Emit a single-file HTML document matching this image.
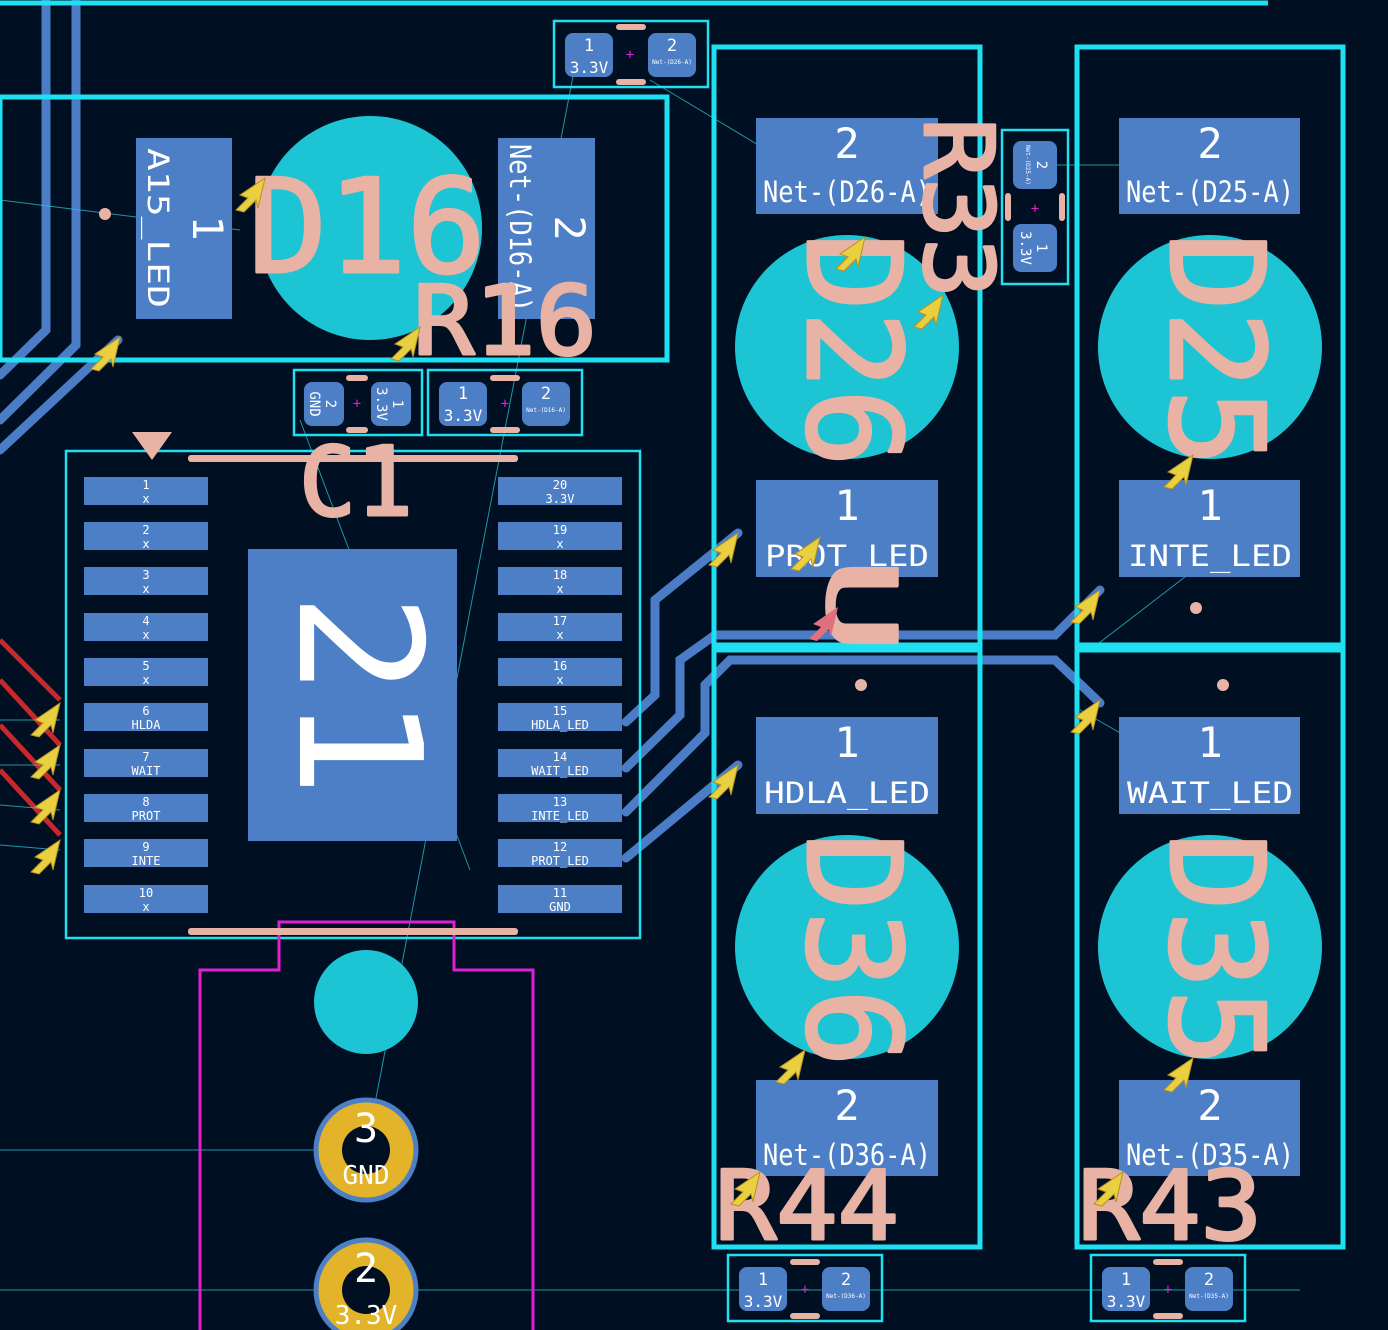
<!DOCTYPE html>
<html><head><meta charset="utf-8"><style>
html,body{margin:0;padding:0;background:#010f22;}
svg{display:block}
text{font-family:"DejaVu Sans Mono","Liberation Mono",monospace;}
.s{fill:#e8b2a4;stroke:#e8b2a4;stroke-width:3;stroke-linejoin:round;font-family:"DejaVu Sans","Liberation Sans",sans-serif;}
.w{fill:#fff}
</style></head><body>
<svg width="1388" height="1330" viewBox="0 0 1388 1330" xmlns="http://www.w3.org/2000/svg">
<rect width="1388" height="1330" fill="#010f22"/>
<g stroke="#c8282c" stroke-width="5">
<line x1="0" y1="640" x2="60" y2="700"/><line x1="0" y1="680" x2="60" y2="745"/><line x1="0" y1="725" x2="60" y2="790"/><line x1="0" y1="770" x2="60" y2="835"/>
</g>
<g stroke="#4a7dc6" stroke-width="9" fill="none" stroke-linecap="round">
<polyline points="46,0 46,330 0,375"/><polyline points="76,0 76,345 0,420"/><polyline points="118,340 0,450"/>
<polyline points="626,722 655,695 655,600 738,533"/>
<polyline points="626,768 680,715 680,660 715,635 1055,635 1100,590"/>
<polyline points="626,812 705,733 705,685 730,660 1055,660 1100,703"/>
<polyline points="626,858 738,765"/>
</g>
<g stroke="#2ad0e0" stroke-width="1" opacity="0.7">
<line x1="0" y1="200" x2="240" y2="230"/><line x1="580" y1="40" x2="366" y2="1150"/><line x1="650" y1="80" x2="850" y2="200"/>
<line x1="1040" y1="165" x2="1150" y2="165"/><line x1="0" y1="1150" x2="366" y2="1150"/><line x1="0" y1="1290" x2="1300" y2="1290"/>
<line x1="300" y1="420" x2="470" y2="870"/><line x1="1080" y1="710" x2="1220" y2="790"/><line x1="1090" y1="650" x2="1220" y2="550"/>
<line x1="760" y1="740" x2="850" y2="770"/><line x1="0" y1="720" x2="60" y2="720"/><line x1="0" y1="765" x2="60" y2="765"/><line x1="0" y1="805" x2="60" y2="810"/><line x1="0" y1="845" x2="60" y2="850"/>
</g>
<g fill="#1cc4d4">
<circle cx="370" cy="228" r="112"/><circle cx="847" cy="347" r="112"/><circle cx="1210" cy="347" r="112"/><circle cx="847" cy="947" r="112"/><circle cx="1210" cy="947" r="112"/><circle cx="366" cy="1002" r="52"/>
</g>
<g fill="none" stroke="#1ee0f0" stroke-width="5">
<line x1="0" y1="3" x2="1268" y2="3"/>
<rect x="0" y="97" width="667" height="263"/>
<rect x="714" y="47" width="266" height="598"/><rect x="714" y="650" width="266" height="597"/>
<rect x="1077" y="47" width="266" height="598"/><rect x="1077" y="650" width="266" height="597"/>
</g>
<g fill="none" stroke="#1ee0f0" stroke-width="2.5">
<rect x="66" y="451" width="574" height="487"/>
<rect x="554" y="21" width="154" height="66"/><rect x="294" y="370" width="128" height="65"/><rect x="428" y="370" width="154" height="65"/>
<rect x="1002" y="130" width="66" height="154"/><rect x="728" y="1255" width="154" height="66"/><rect x="1091" y="1255" width="154" height="66"/>
</g>
<path d="M200,1330 V970 H279 V922 H454 V970 H533 V1330" fill="none" stroke="#e020d0" stroke-width="3"/>
<g fill="#4d7fc6">
<rect x="136" y="138" width="96" height="181"/><rect x="498" y="138" width="97" height="181"/>
<rect x="756" y="118" width="182" height="96"/><rect x="756" y="480" width="182" height="97"/>
<rect x="1119" y="118" width="181" height="96"/><rect x="1119" y="480" width="181" height="97"/>
<rect x="756" y="717" width="182" height="97"/><rect x="756" y="1080" width="182" height="96"/>
<rect x="1119" y="717" width="181" height="97"/><rect x="1119" y="1080" width="181" height="96"/>
<rect x="248" y="549" width="209" height="292"/>
<rect x="565" y="33" width="48" height="44" rx="8"/><rect x="648" y="33" width="48" height="44" rx="8"/>
<rect x="304" y="382" width="40" height="44" rx="8"/><rect x="371" y="382" width="40" height="44" rx="8"/>
<rect x="439" y="382" width="48" height="44" rx="8"/><rect x="522" y="382" width="48" height="44" rx="8"/>
<rect x="1013" y="141" width="44" height="48" rx="8"/><rect x="1013" y="224" width="44" height="48" rx="8"/>
<rect x="739" y="1267" width="48" height="44" rx="8"/><rect x="822" y="1267" width="48" height="44" rx="8"/>
<rect x="1102" y="1267" width="48" height="44" rx="8"/><rect x="1185" y="1267" width="48" height="44" rx="8"/>
</g>
<g fill="#4d7fc6">
<rect x="84" y="477" width="124" height="28"/><rect x="84" y="522" width="124" height="28"/><rect x="84" y="567" width="124" height="28"/><rect x="84" y="613" width="124" height="28"/><rect x="84" y="658" width="124" height="28"/><rect x="84" y="703" width="124" height="28"/><rect x="84" y="749" width="124" height="28"/><rect x="84" y="794" width="124" height="28"/><rect x="84" y="839" width="124" height="28"/><rect x="84" y="885" width="124" height="28"/>
<rect x="498" y="477" width="124" height="28"/><rect x="498" y="522" width="124" height="28"/><rect x="498" y="567" width="124" height="28"/><rect x="498" y="613" width="124" height="28"/><rect x="498" y="658" width="124" height="28"/><rect x="498" y="703" width="124" height="28"/><rect x="498" y="749" width="124" height="28"/><rect x="498" y="794" width="124" height="28"/><rect x="498" y="839" width="124" height="28"/><rect x="498" y="885" width="124" height="28"/>
</g>
<g class="w" font-size="12" text-anchor="middle">
<text x="146" y="489">1</text><text x="146" y="503">x</text>
<text x="146" y="534">2</text><text x="146" y="548">x</text>
<text x="146" y="579">3</text><text x="146" y="593">x</text>
<text x="146" y="625">4</text><text x="146" y="639">x</text>
<text x="146" y="670">5</text><text x="146" y="684">x</text>
<text x="146" y="715">6</text><text x="146" y="729">HLDA</text>
<text x="146" y="761">7</text><text x="146" y="775">WAIT</text>
<text x="146" y="806">8</text><text x="146" y="820">PROT</text>
<text x="146" y="851">9</text><text x="146" y="865">INTE</text>
<text x="146" y="897">10</text><text x="146" y="911">x</text>
<text x="560" y="489">20</text><text x="560" y="503">3.3V</text>
<text x="560" y="534">19</text><text x="560" y="548">x</text>
<text x="560" y="579">18</text><text x="560" y="593">x</text>
<text x="560" y="625">17</text><text x="560" y="639">x</text>
<text x="560" y="670">16</text><text x="560" y="684">x</text>
<text x="560" y="715">15</text><text x="560" y="729">HDLA_LED</text>
<text x="560" y="761">14</text><text x="560" y="775">WAIT_LED</text>
<text x="560" y="806">13</text><text x="560" y="820">INTE_LED</text>
<text x="560" y="851">12</text><text x="560" y="865">PROT_LED</text>
<text x="560" y="897">11</text><text x="560" y="911">GND</text>
</g>
<g fill="#e8b2a4">
<rect x="188" y="455" width="330" height="7" rx="3"/><rect x="188" y="928" width="330" height="7" rx="3"/>
<polygon points="132,432 172,432 152,460"/>
<rect x="616" y="24" width="30" height="6" rx="3"/><rect x="616" y="79" width="30" height="6" rx="3"/>
<rect x="346" y="375" width="22" height="6" rx="3"/><rect x="346" y="427" width="22" height="6" rx="3"/>
<rect x="490" y="375" width="30" height="6" rx="3"/><rect x="490" y="427" width="30" height="6" rx="3"/>
<rect x="1005" y="193" width="6" height="28" rx="3"/><rect x="1059" y="193" width="6" height="28" rx="3"/>
<rect x="790" y="1259" width="30" height="6" rx="3"/><rect x="790" y="1313" width="30" height="6" rx="3"/>
<rect x="1153" y="1259" width="30" height="6" rx="3"/><rect x="1153" y="1313" width="30" height="6" rx="3"/>
<circle cx="105" cy="214" r="6"/><circle cx="861" cy="685" r="6"/><circle cx="1196" cy="608" r="6"/><circle cx="1223" cy="685" r="6"/>
</g>
<g fill="#e020d0" font-size="14" text-anchor="middle">
<text x="630" y="59">+</text><text x="357" y="408">+</text><text x="505" y="408">+</text><text x="1035" y="213">+</text><text x="805" y="1294">+</text><text x="1168" y="1294">+</text>
</g>
<g class="w" text-anchor="middle">
<text x="589" y="51" font-size="17">1</text><text x="589" y="73" font-size="16">3.3V</text>
<text x="672" y="51" font-size="17">2</text><text x="672" y="64" font-size="6">Net-(D26-A)</text>
<text x="463" y="399" font-size="17">1</text><text x="463" y="421" font-size="16">3.3V</text>
<text x="546" y="399" font-size="17">2</text><text x="546" y="412" font-size="6">Net-(D16-A)</text>
<text x="763" y="1285" font-size="17">1</text><text x="763" y="1307" font-size="16">3.3V</text>
<text x="846" y="1285" font-size="17">2</text><text x="846" y="1298" font-size="6">Net-(D36-A)</text>
<text x="1126" y="1285" font-size="17">1</text><text x="1126" y="1307" font-size="16">3.3V</text>
<text x="1209" y="1285" font-size="17">2</text><text x="1209" y="1298" font-size="6">Net-(D35-A)</text>
<g transform="translate(324,404) rotate(90)"><text x="0" y="-2" font-size="14">2</text><text x="0" y="14" font-size="14">GND</text></g>
<g transform="translate(391,404) rotate(90)"><text x="0" y="-2" font-size="14">1</text><text x="0" y="14" font-size="14">3.3V</text></g>
<g transform="translate(1035,165) rotate(90)"><text x="0" y="-2" font-size="14">2</text><text x="0" y="9" font-size="6">Net-(D25-A)</text></g>
<g transform="translate(1035,248) rotate(90)"><text x="0" y="-2" font-size="14">1</text><text x="0" y="14" font-size="14">3.3V</text></g>
</g>
<g class="w" text-anchor="middle" font-size="29">
<text x="847" y="158" font-size="42">2</text><text x="847" y="202" textLength="168" lengthAdjust="spacingAndGlyphs">Net-(D26-A)</text>
<text x="1210" y="158" font-size="42">2</text><text x="1210" y="202" textLength="168" lengthAdjust="spacingAndGlyphs">Net-(D25-A)</text>
<text x="847" y="520" font-size="42">1</text><text x="847" y="566" textLength="164" lengthAdjust="spacingAndGlyphs">PROT_LED</text>
<text x="1210" y="520" font-size="42">1</text><text x="1210" y="566" textLength="164" lengthAdjust="spacingAndGlyphs">INTE_LED</text>
<text x="847" y="757" font-size="42">1</text><text x="847" y="803" textLength="166" lengthAdjust="spacingAndGlyphs">HDLA_LED</text>
<text x="1210" y="757" font-size="42">1</text><text x="1210" y="803" textLength="166" lengthAdjust="spacingAndGlyphs">WAIT_LED</text>
<text x="847" y="1120" font-size="42">2</text><text x="847" y="1165" textLength="168" lengthAdjust="spacingAndGlyphs">Net-(D36-A)</text>
<text x="1210" y="1120" font-size="42">2</text><text x="1210" y="1165" textLength="168" lengthAdjust="spacingAndGlyphs">Net-(D35-A)</text>
<g transform="translate(184,228) rotate(90)"><text x="0" y="-9" font-size="42">1</text><text x="0" y="36" font-size="29" textLength="160" lengthAdjust="spacingAndGlyphs">A15_LED</text></g>
<g transform="translate(546,228) rotate(90)"><text x="0" y="-9" font-size="42">2</text><text x="0" y="36" font-size="29" textLength="168" lengthAdjust="spacingAndGlyphs">Net-(D16-A)</text></g>
<text x="0" y="0" font-size="170" transform="translate(300,695) rotate(90)" text-anchor="middle" font-family="DejaVu Sans,sans-serif">21</text>
<g transform="translate(366,1150)"><circle r="50" fill="#e3b42a" stroke="#4d7fc6" stroke-width="5"/><circle r="24" fill="#010f22"/><text y="-8" font-size="40">3</text><text y="34" font-size="26">GND</text></g>
<g transform="translate(366,1290)"><circle r="50" fill="#e3b42a" stroke="#4d7fc6" stroke-width="5"/><circle r="24" fill="#010f22"/><text y="-8" font-size="40">2</text><text y="34" font-size="26">3.3V</text></g>
</g>
<g class="s">
<text x="248" y="272" font-size="130" textLength="238" lengthAdjust="spacingAndGlyphs">D16</text>
<text x="413" y="354" font-size="95" textLength="184" lengthAdjust="spacingAndGlyphs">R16</text>
<text x="299" y="515" font-size="95" textLength="114" lengthAdjust="spacingAndGlyphs">C1</text>
<text x="715" y="1239" font-size="95" textLength="184" lengthAdjust="spacingAndGlyphs">R44</text>
<text x="1078" y="1239" font-size="95" textLength="184" lengthAdjust="spacingAndGlyphs">R43</text>
<text transform="translate(808,233) rotate(90)" font-size="130" textLength="234" lengthAdjust="spacingAndGlyphs">D26</text>
<text transform="translate(1171,233) rotate(90)" font-size="130" textLength="234" lengthAdjust="spacingAndGlyphs">D25</text>
<text transform="translate(808,833) rotate(90)" font-size="130" textLength="234" lengthAdjust="spacingAndGlyphs">D36</text>
<text transform="translate(1171,833) rotate(90)" font-size="130" textLength="234" lengthAdjust="spacingAndGlyphs">D35</text>
<text transform="translate(925,118) rotate(90)" font-size="95" textLength="180" lengthAdjust="spacingAndGlyphs">R33</text>
<text transform="translate(828,558) rotate(90)" font-size="95" textLength="95" lengthAdjust="spacingAndGlyphs">U</text>
</g>
<g fill="#e8d040" stroke="#b89020" stroke-width="1">
<polygon points="265,178 240,195 248,198 236,210 244,212 256,200 258,208"/>
<polygon points="420,327 395,344 403,347 391,359 399,361 411,349 413,357"/>
<polygon points="120,337 95,354 103,357 91,369 99,371 111,359 113,367"/>
<polygon points="865,237 840,254 848,257 836,269 844,271 856,259 858,267"/>
<polygon points="943,295 918,312 926,315 914,327 922,329 934,317 936,325"/>
<polygon points="738,533 713,550 721,553 709,565 717,567 729,555 731,563"/>
<polygon points="820,537 795,554 803,557 791,569 799,571 811,559 813,567"/>
<polygon points="1100,590 1075,607 1083,610 1071,622 1079,624 1091,612 1093,620"/>
<polygon points="1100,700 1075,717 1083,720 1071,732 1079,734 1091,722 1093,730"/>
<polygon points="738,765 713,782 721,785 709,797 717,799 729,787 731,795"/>
<polygon points="1193,455 1168,472 1176,475 1164,487 1172,489 1184,477 1186,485"/>
<polygon points="805,1050 780,1067 788,1070 776,1082 784,1084 796,1072 798,1080"/>
<polygon points="1193,1058 1168,1075 1176,1078 1164,1090 1172,1092 1184,1080 1186,1088"/>
<polygon points="760,1172 735,1189 743,1192 731,1204 739,1206 751,1194 753,1202"/>
<polygon points="1123,1172 1098,1189 1106,1192 1094,1204 1102,1206 1114,1194 1116,1202"/>
<polygon points="60,703 35,720 43,723 31,735 39,737 51,725 53,733"/>
<polygon points="60,745 35,762 43,765 31,777 39,779 51,767 53,775"/>
<polygon points="60,790 35,807 43,810 31,822 39,824 51,812 53,820"/>
<polygon points="60,840 35,857 43,860 31,872 39,874 51,862 53,870"/>
</g>
<polygon points="838,607 813,624 821,627 809,639 817,641 829,629 831,637" fill="#e07080"/>
</svg>
</body></html>
